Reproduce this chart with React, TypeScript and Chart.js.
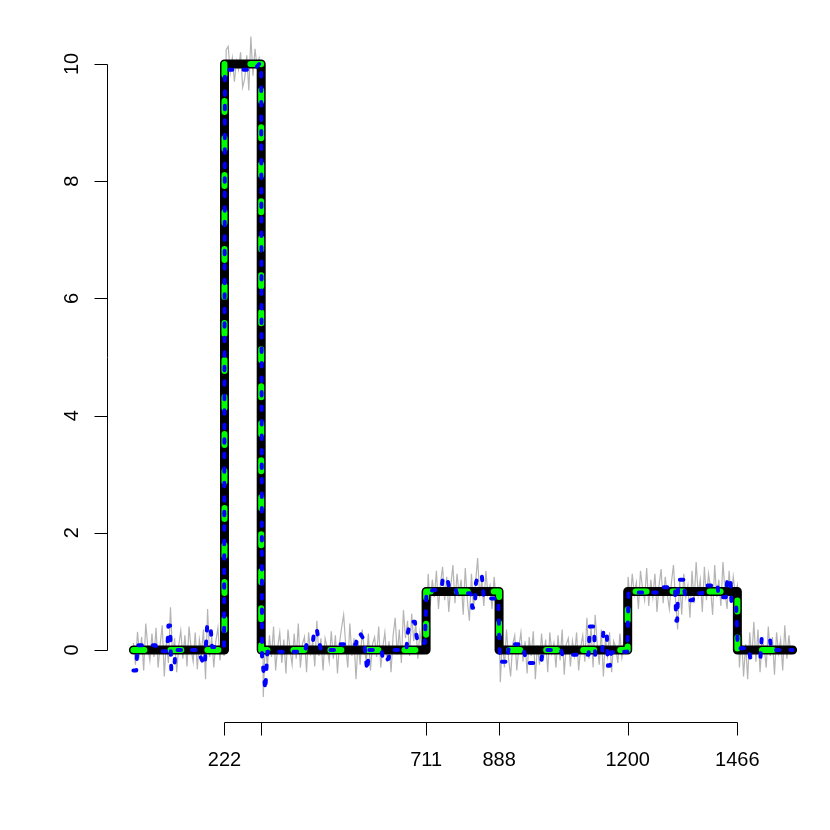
import React, { useEffect, useRef } from 'react';
import { Chart, registerables } from 'chart.js';

Chart.register(...registerables);

// True piecewise-constant signal (breakpoints, drawn as steps)
const stepX = [1, 222, 311, 711, 888, 1200, 1466, 1600];
const stepY = [0, 10, 0, 1, 0, 1, 0, 0];

// Noisy observations, sampled every 5th index, one array per segment
const grayStep = 5;
const graySegStarts = [1, 226, 316, 716, 891, 1201, 1471];
const gray1 = [
  0.12, -0.25, 0.31, -0.08, 0.22, -0.35, 0.45, 0.05, -0.18, 0.28,
  -0.12, 0.38, -0.3, 0.1, 0.42, -0.45, 0.15, -0.22, 0.73, -0.1,
  0.2, -0.38, 0.08, 0.33, -0.15, 0.25, -0.28, 0.4, 0.02, -0.2,
  0.3, -0.33, 0.18, -0.05, 0.35, -0.5, 0.7, -0.12, 0.22, -0.3,
  0.15, 0.38, -0.18, 0.27, -0.1,
];
const gray2 = [
  10.24, 10.3, 9.85, 10.1, 9.7, 10.05, 9.9, 10.2, 9.6, 9.75,
  10.15, 9.55, 10.47, 9.8, 10.26, 9.95, 10.1, 9.88,
];
const gray3 = [
  -0.8, 0.15, -0.3, 0.25, -0.12, 0.4, -0.35, 0.05, 0.3, -0.22,
  0.18, -0.4, 0.35, 0.0, -0.25, 0.28, -0.15, 0.45, -0.3, 0.1,
  0.22, -0.38, 0.3, -0.05, 0.15, -0.28, 0.5, -0.1, 0.2, -0.35,
  0.2, 0.05, -0.2, 0.32, -0.15, 0.25, -0.4, 0.12, 0.38, 0.6,
  0.08, -0.3, 0.45, -0.1, 0.2, -0.5, 0.15, -0.25, 0.35, 0.0,
  -0.18, 0.28, -0.35, 0.1, 0.22, -0.12, 0.4, -0.3, 0.05, 0.3,
  -0.2, 0.15, -0.38, 0.25, 0.55, -0.08, 0.35, -0.22, 0.68, 0.2,
  0.5, -0.1, 0.62, 0.15, 0.45, -0.15, 0.3, 0.05, 0.4, 0.12,
];
const gray4 = [
  1.3, 0.75, 1.2, 0.9, 1.35, 0.7, 1.15, 1.42, 0.85, 1.25,
  0.65, 1.1, 1.45, 0.8, 1.3, 0.95, 1.2, 0.6, 1.4, 0.85,
  0.5, 1.3, 0.7, 1.15, 1.57, 0.9, 1.2, 0.75, 1.35, 0.95,
  1.1, 0.7, 1.25, 0.85, 1.05,
];
const gray5 = [
  -0.55, 0.2, -0.3, 0.35, -0.15, -0.45, 0.1, 0.25, -0.35, 0.05,
  0.3, -0.2, 0.15, -0.4, 0.22, -0.1, 0.32, -0.5, 0.08, -0.25,
  0.28, -0.12, 0.18, -0.38, 0.3, -0.05, 0.12, -0.3, 0.25, -0.18,
  0.35, -0.42, 0.1, 0.2, -0.28, 0.15, -0.1, 0.3, -0.35, 0.05,
  0.25, -0.2, 0.55, -0.15, 0.4, -0.3, 0.6, 0.1, -0.25, 0.35,
  -0.45, 0.2, -0.1, 0.3, -0.38, 0.15, 0.05, -0.22, 0.28, -0.12,
  0.18, -0.05,
];
const gray6 = [
  1.25, 0.8, 1.3, 0.95, 1.15, 0.7, 1.35, 1.05, 0.85, 1.4,
  0.75, 1.2, 0.9, 1.3, 0.65, 1.1, 1.38, 0.8, 1.25, 0.95,
  0.7, 1.15, 1.45, 0.85, 0.35, 1.2, 0.6, 1.3, 0.9, 1.1,
  0.55, 1.35, 0.8, 1.5, 0.95, 1.2, 0.65, 1.42, 0.85, 1.3,
  1.05, 0.6, 1.45, 0.9, 1.2, 0.75, 1.5, 1.0, 0.7, 1.35,
  0.85, 1.25, 0.95, 1.1,
];
const gray7 = [
  -0.3, 0.25, -0.45, 0.1, -0.5, 0.3, -0.15, 0.48, -0.2, 0.35,
  -0.38, 0.15, 0.05, -0.3, 0.4, -0.1, 0.22, -0.42, 0.3, -0.05,
  0.18, -0.35, 0.42, -0.15, 0.25, -0.08,
];
const graySegments = [gray1, gray2, gray3, gray4, gray5, gray6, gray7];

// Blue estimate (breakpoints)
const blueX = [
  1, 8, 11, 55, 58, 83, 86, 90, 93, 100, 103, 160, 164, 174, 180, 188, 192, 221,
  223, 290, 300, 306, 311,
  313, 321, 326, 417, 422, 436, 440, 446, 450, 456, 493, 497, 541, 544, 552, 560, 568, 573,
  603, 607, 620, 624, 663, 667, 672, 684, 687, 691, 708,
  712, 748, 752, 762, 766, 781, 785, 817, 821, 823, 829, 832, 838, 846, 851, 886,
  890, 908, 912, 942, 948, 955, 990, 994, 1038, 1042, 1105, 1108, 1118, 1121, 1138, 1141,
  1149, 1152, 1157, 1160, 1199,
  1202, 1280, 1284, 1312, 1315, 1318, 1320, 1323, 1335, 1340, 1358, 1362, 1381, 1385,
  1408, 1411, 1418, 1420, 1438, 1442, 1449, 1452, 1463,
  1467, 1494, 1497, 1522, 1525, 1545, 1548, 1600,
];
const blueY = [
  -0.35, -0.35, 0.08, 0.08, -0.02, -0.02, 0.42, 0.42, -0.34, -0.34, 0.0, 0.0, -0.12, -0.26, 0.42, 0.42, 0.05, 0.05,
  9.9, 9.9, 9.95, 10.0, 10.0,
  -0.1, -0.68, -0.03, -0.03, 0.12, 0.12, 0.35, 0.35, 0.18, 0.0, 0.0, 0.1, 0.1, 0.27, 0.27, 0.18, -0.35, 0.0,
  0.0, -0.2, -0.15, 0.0, 0.0, 0.3, 0.48, 0.48, 0.28, 0.12, 0.12,
  1.0, 1.04, 1.23, 1.23, 1.1, 1.1, 0.97, 0.97, 0.94, 0.72, 0.72, 1.15, 1.28, 1.28, 0.88, 0.88,
  -0.2, -0.2, 0.1, 0.1, 0.0, -0.22, -0.22, 0.0, 0.0, -0.08, -0.08, 0.4, 0.4, -0.08, -0.08, 0.33,
  0.33, -0.27, -0.27, -0.04, -0.03,
  0.98, 0.98, 1.07, 1.07, 1.0, 0.5, 0.5, 1.2, 1.2, 0.85, 0.85, 0.97, 0.97, 1.1,
  1.1, 1.13, 1.13, 0.9, 0.9, 1.22, 1.22, 0.77, 0.77,
  0.03, 0.03, -0.13, -0.13, 0.2, 0.2, 0.0, 0.0,
];

// Axes
const xTicks = [222, 311, 711, 888, 1200, 1466];
const xTickLabels = ['222', '', '711', '888', '1200', '1466'];
const yTicks = [0, 2, 4, 6, 8, 10];
const yTickLabels = ['0', '2', '4', '6', '8', '10'];

const rAxesPlugin = {
  id: 'rAxes',
  afterDraw(chart: any) {
    const { ctx, chartArea } = chart;
    const xs = chart.scales.x;
    const ys = chart.scales.y;
    const tick = 13;
    ctx.save();
    ctx.strokeStyle = '#000';
    ctx.fillStyle = '#000';
    ctx.lineWidth = 1;
    ctx.font = '20px "Liberation Sans", Arial, Helvetica, sans-serif';

    // bottom axis
    const by = Math.round(chartArea.bottom) + 0.5;
    const x0 = xs.getPixelForValue(xTicks[0]);
    const x1 = xs.getPixelForValue(xTicks[xTicks.length - 1]);
    ctx.beginPath();
    ctx.moveTo(Math.round(x0) + 0.5, by);
    ctx.lineTo(Math.round(x1) + 0.5, by);
    xTicks.forEach((v) => {
      const px = Math.round(xs.getPixelForValue(v)) + 0.5;
      ctx.moveTo(px, by);
      ctx.lineTo(px, by + tick);
    });
    ctx.stroke();
    ctx.textAlign = 'center';
    ctx.textBaseline = 'middle';
    xTicks.forEach((v, i) => {
      if (xTickLabels[i]) ctx.fillText(xTickLabels[i], xs.getPixelForValue(v), by + 38);
    });

    // left axis
    const lx = Math.round(chartArea.left) + 0.5;
    const y0 = ys.getPixelForValue(yTicks[0]);
    const y1 = ys.getPixelForValue(yTicks[yTicks.length - 1]);
    ctx.beginPath();
    ctx.moveTo(lx, Math.round(y0) + 0.5);
    ctx.lineTo(lx, Math.round(y1) + 0.5);
    yTicks.forEach((v) => {
      const py = Math.round(ys.getPixelForValue(v)) + 0.5;
      ctx.moveTo(lx, py);
      ctx.lineTo(lx - tick, py);
    });
    ctx.stroke();
    yTicks.forEach((v, i) => {
      const py = ys.getPixelForValue(v);
      ctx.save();
      ctx.translate(lx - 35, py);
      ctx.rotate(-Math.PI / 2);
      ctx.textAlign = 'center';
      ctx.textBaseline = 'middle';
      ctx.fillText(yTickLabels[i], 0, 0);
      ctx.restore();
    });
    ctx.restore();
  },
};

export default function App() {
  const ref = useRef<HTMLCanvasElement | null>(null);

  useEffect(() => {
    if (!ref.current) return;
    const grayData: { x: number; y: number }[] = [];
    graySegments.forEach((seg, s) => {
      seg.forEach((v, i) => grayData.push({ x: graySegStarts[s] + grayStep * i, y: v }));
    });
    const stepData = stepX.map((x, i) => ({ x, y: stepY[i] }));
    const blueData = blueX.map((x, i) => ({ x, y: blueY[i] }));

    const chart = new Chart(ref.current, {
      type: 'line',
      data: {
        datasets: [
          {
            data: blueData,
            borderColor: '#0000ff',
            borderWidth: 4,
            borderDash: [3.5, 11],
            borderCapStyle: 'round',
            borderJoinStyle: 'round',
            pointRadius: 0,
            tension: 0,
            order: 0,
          },
          {
            data: stepData,
            borderColor: '#00ff00',
            borderWidth: 6,
            borderDash: [11, 26],
            borderCapStyle: 'round',
            borderJoinStyle: 'round',
            stepped: 'before',
            pointRadius: 0,
            order: 1,
          },
          {
            data: stepData,
            borderColor: '#000000',
            borderWidth: 9,
            borderCapStyle: 'round',
            borderJoinStyle: 'round',
            stepped: 'before',
            pointRadius: 0,
            order: 2,
          },
          {
            data: grayData,
            borderColor: '#b4b4b4',
            borderWidth: 1.2,
            pointRadius: 0,
            tension: 0,
            order: 3,
          },
        ],
      } as any,
      options: {
        responsive: false,
        animation: false,
        devicePixelRatio: 1,
        events: [],
        layout: { padding: { left: 107, right: 11, top: 11, bottom: 108 } },
        scales: {
          x: { type: 'linear', min: -63, max: 1664, display: false },
          y: { type: 'linear', min: -1.2287, max: 10.9044, display: false },
        },
        plugins: { legend: { display: false }, tooltip: { enabled: false } },
      } as any,
      plugins: [rAxesPlugin],
    });
    return () => chart.destroy();
  }, []);

  return (
    <div style={{ position: 'fixed', left: 0, top: 0, width: 830, height: 830, background: '#fff' }}>
      <canvas ref={ref} width={830} height={830} style={{ width: 830, height: 830 }} />
    </div>
  );
}
